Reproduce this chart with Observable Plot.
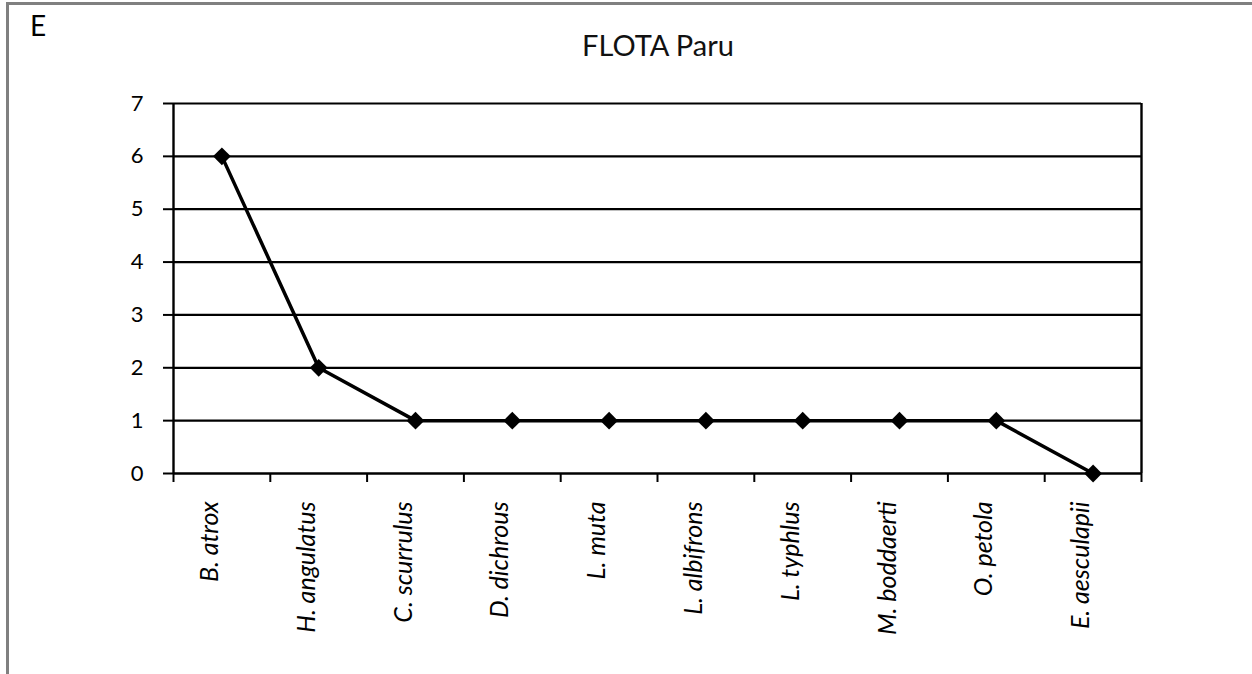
<!DOCTYPE html>
<html>
<head>
<meta charset="utf-8">
<script src="https://cdn.jsdelivr.net/npm/d3@7"></script>
<script src="https://cdn.jsdelivr.net/npm/@observablehq/plot@0.6"></script>
<style>
  html, body { margin: 0; padding: 0; background: #fff; }
  #wrap { position: relative; width: 1252px; height: 674px; overflow: hidden; font-family: Lato, "Open Sans", sans-serif; }
  #frame { position: absolute; left: 6px; top: 2px; width: 1260px; height: 700px; border-top: 3px solid #808080; border-left: 3px solid #808080; box-sizing: border-box; }
  #panel { position: absolute; left: 30px; top: 9px; font-size: 28px; line-height: 1.2; color: #000; }
  #title { position: absolute; left: 0; width: 1316px; top: 28px; text-align: center; font-size: 29px; line-height: 1.2; color: #111; }
  #chart { position: absolute; left: 0; top: 0; }
</style>
</head>
<body>
<div id="wrap">
  <div id="chart"></div>
  <div id="frame"></div>
  <div id="panel">E</div>
  <div id="title">FLOTA Paru</div>
</div>
<script>
const categories = ["B. atrox", "H. angulatus", "C. scurrulus", "D. dichrous", "L. muta", "L. albifrons", "L. typhlus", "M. boddaerti", "O. petola", "E. aesculapii"];
const values = [6, 2, 1, 1, 1, 1, 1, 1, 1, 0];
const yTicks = [0, 1, 2, 3, 4, 5, 6, 7];

const data = categories.map((c, i) => ({name: c, pos: i + 0.5, value: values[i]}));
const boundaries = d3.range(categories.length + 1);

const chart = Plot.plot({
  width: 1252,
  height: 674,
  marginLeft: 173,
  marginRight: 111,
  marginTop: 103,
  marginBottom: 201,
  style: {fontFamily: "Lato, 'Open Sans', sans-serif", background: "transparent", color: "#000"},
  x: {type: "linear", domain: [0, categories.length], axis: null},
  y: {domain: [0, 7], axis: null},
  marks: [
    Plot.ruleY(yTicks.slice(1), {stroke: "#000", strokeWidth: 2.2}),
    Plot.ruleX([0, categories.length], {y1: 0, y2: 7, stroke: "#000", strokeWidth: 2.4}),
    Plot.ruleY([0], {stroke: "#000", strokeWidth: 2.4}),
    Plot.axisY(yTicks, {label: null, tickSize: 10, tickPadding: 20, fontSize: 22, tickFormat: d3.format("d"), stroke: "#000", strokeWidth: 2, fill: "#000"}),
    Plot.axisX(boundaries, {label: null, anchor: "bottom", tickSize: 9, tickFormat: () => "", stroke: "#000", strokeWidth: 2}),
    Plot.text(data, {x: "pos", y: 0, text: "name", rotate: -90, textAnchor: "end", dy: 28, dx: -12, fontSize: 25, fontStyle: "italic", fill: "#000"}),
    Plot.line(data, {x: "pos", y: "value", stroke: "#000", strokeWidth: 3.5}),
    Plot.dot(data, {x: "pos", y: "value", symbol: "diamond2", r: 8, fill: "#000", stroke: "none"})
  ]
});
document.getElementById("chart").appendChild(chart);
</script>
</body>
</html>
